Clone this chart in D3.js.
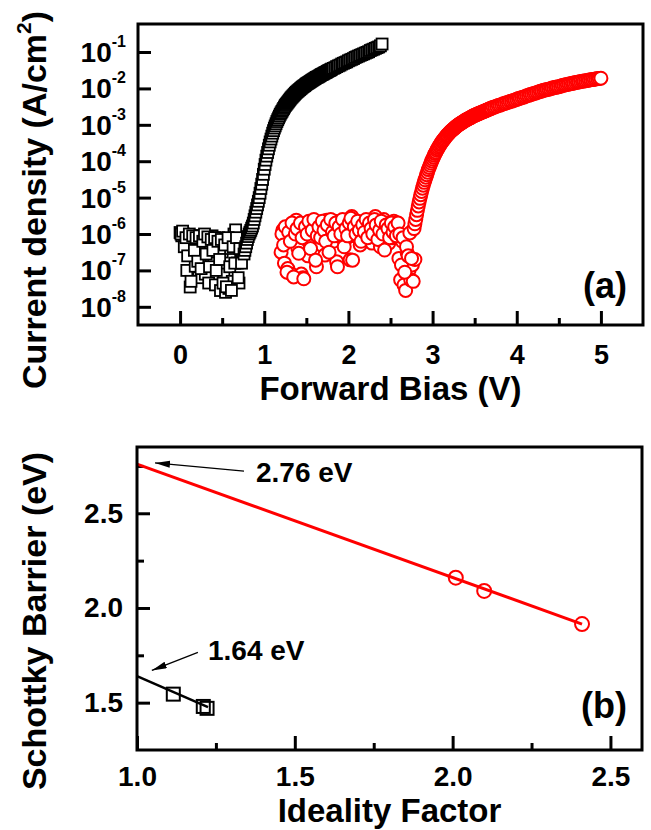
<!DOCTYPE html>
<html><head><meta charset="utf-8">
<script src="https://cdn.jsdelivr.net/npm/d3@7/dist/d3.min.js"></script>
<style>
body{margin:0;background:#fff}
svg{display:block}
text{font-family:"Liberation Sans",Arial,sans-serif;font-weight:bold;fill:#000}
</style>
</head><body>
<svg id="c" width="651" height="830"></svg>
<script>
// ---------- Panel (a): J-V data (V in volts, J in A/cm^2) ----------
const blackLeakV = [0.00,0.02,0.04,0.06,0.08,0.10,0.12,0.14,0.16,0.18,0.20,0.22,0.24,0.26,0.28,0.30,0.32,0.34,0.36,0.38,
  0.40,0.42,0.44,0.46,0.48,0.50,0.52,0.54,0.56,0.58,0.60,0.62,0.64,0.66,0.68,0.70,0.72,0.74];
const blackLeakJ = [1.1e-6,8.9e-7,1.0e-6,6.3e-7,1.0e-7,7.9e-7,3.5e-8,5.0e-7,8.9e-7,1.3e-7,7.1e-7,6.3e-8,2.5e-7,7.9e-7,4.0e-7,7.9e-8,6.3e-7,4.5e-8,5.0e-7,8.9e-7,
  1.6e-7,4.0e-8,5.6e-7,7.9e-7,2.8e-8,3.2e-7,7.9e-8,2.5e-8,6.3e-7,3.2e-8,4.0e-7,5.0e-8,1.0e-6,1.3e-6,1.6e-7,4.5e-8,2.5e-7,3.5e-7];
const blackLeak2V = [0.01,0.03,0.05,0.07,0.09,0.11,0.13,0.15,0.17,0.19,0.21,0.23,0.25,0.27,0.29,0.31,0.33,0.35,0.37,
  0.39,0.41,0.43,0.45,0.47,0.49,0.51,0.53,0.55,0.57,0.59,0.61,0.63,0.65,0.67,0.69,0.71,0.73];
const blackLeak2J = [1.00e-6,1.20e-6,4.47e-7,7.94e-7,2.51e-7,1.00e-6,5.01e-8,8.91e-7,3.55e-7,7.94e-7,1.78e-7,8.91e-7,1.12e-7,6.31e-7,1.00e-6,2.82e-7,8.32e-7,1.26e-7,7.08e-7,
  3.55e-7,7.94e-7,1.00e-7,6.31e-7,2.00e-7,7.08e-7,4.47e-8,5.01e-7,3.55e-8,7.94e-7,1.26e-7,2.82e-8,4.47e-7,1.58e-7,7.94e-7,6.31e-8,3.98e-7,1.58e-7];
const blackOnV = [0.76,0.77,0.78,0.79,0.80,0.81,0.82,0.83,0.84,0.85,0.86,0.87,0.88,0.89,0.90,0.91,0.92,0.93,0.94,0.95,
  0.96,0.97,0.98,0.99,1.00,1.01,1.02,1.03,1.04,1.05,1.06,1.07,1.08,1.09,1.10,1.11,1.12,1.13,1.14,1.15,
  1.16,1.17,1.18,1.19,1.20,1.21,1.22,1.23,1.24,1.25,1.26,1.27,1.28,1.29,1.30,1.31,1.32,1.33,1.34,1.35,
  1.36,1.37,1.38,1.39,1.40,1.41,1.42,1.43,1.44,1.45,1.46,1.47,1.48,1.49,1.50,1.51,1.52,1.53,1.54,1.55,
  1.56,1.57,1.58,1.59,1.60,1.61,1.62,1.63,1.64,1.65,1.66,1.67,1.68,1.69,1.70,1.71,1.72,1.73,1.74,1.75,
  1.76,1.77,1.78,1.79,1.80,
  1.82,1.84,1.86,1.88,1.90,1.92,1.94,1.96,1.98,2.00,2.02,2.04,2.06,2.08,2.10,
  2.12,2.14,2.16,2.18,2.20,2.22,2.24,2.26,2.28,2.30,2.32,2.34,2.36,2.38,2.40];
const blackOnJ = [2.82e-7,3.55e-7,4.47e-7,5.62e-7,7.08e-7,8.51e-7,1.00e-6,1.12e-6,1.26e-6,1.45e-6,
  1.66e-6,2.00e-6,2.51e-6,3.16e-6,3.98e-6,5.01e-6,6.31e-6,7.94e-6,1.00e-5,1.32e-5,
  1.78e-5,2.34e-5,3.16e-5,4.37e-5,6.03e-5,8.13e-5,1.07e-4,1.38e-4,1.74e-4,2.19e-4,
  2.75e-4,3.39e-4,4.07e-4,4.90e-4,5.89e-4,6.92e-4,8.13e-4,9.33e-4,1.07e-3,1.23e-3,
  1.38e-3,1.55e-3,1.74e-3,1.95e-3,2.14e-3,2.34e-3,2.57e-3,2.82e-3,3.09e-3,3.39e-3,
  3.63e-3,3.89e-3,4.17e-3,4.47e-3,4.79e-3,5.13e-3,5.50e-3,5.82e-3,6.17e-3,6.53e-3,
  6.92e-3,7.33e-3,7.76e-3,8.13e-3,8.51e-3,8.91e-3,9.33e-3,9.77e-3,1.02e-2,1.07e-2,
  1.12e-2,1.16e-2,1.20e-2,1.26e-2,1.32e-2,1.36e-2,1.41e-2,1.46e-2,1.51e-2,1.57e-2,
  1.62e-2,1.68e-2,1.74e-2,1.80e-2,1.86e-2,1.93e-2,2.00e-2,2.04e-2,2.09e-2,2.16e-2,
  2.24e-2,2.32e-2,2.40e-2,2.45e-2,2.51e-2,2.60e-2,2.69e-2,2.75e-2,2.82e-2,2.92e-2,
  3.02e-2,3.09e-2,3.16e-2,3.27e-2,3.39e-2,
  3.55e-2,3.72e-2,3.98e-2,4.17e-2,4.37e-2,4.68e-2,4.90e-2,5.13e-2,5.37e-2,5.75e-2,6.03e-2,6.31e-2,6.61e-2,7.08e-2,7.41e-2,
  7.76e-2,8.13e-2,8.51e-2,8.91e-2,9.33e-2,9.77e-2,0.102,0.110,0.115,0.120,0.126,0.132,0.138,0.148,0.166];

const redLeakV = [1.20,1.22,1.24,1.26,1.28,1.30,1.32,1.34,1.36,1.38,1.40,1.42,1.44,1.46,1.48,1.50,1.52,1.54,1.56,1.58,
  1.60,1.62,1.64,1.66,1.68,1.70,1.72,1.74,1.76,1.78,1.80,1.82,1.84,1.86,1.88,1.90,1.92,1.94,1.96,1.98,
  2.00,2.02,2.04,2.06,2.08,2.10,2.12,2.14,2.16,2.18,2.20,2.22,2.24,2.26,2.28,2.30,2.32,2.34,2.36,2.38,
  2.40,2.42,2.44,2.46,2.48,2.50,2.52,2.54,2.56,2.58,2.60,2.62,2.64,2.66,2.68,2.70,2.72,2.74,2.76,2.77,2.79];
const redLeakJ = [3.16e-7,1.26e-6,1.58e-7,7.94e-7,1.12e-7,1.41e-6,7.94e-8,7.08e-7,1.78e-6,2.40e-6,
  3.98e-7,1.12e-6,7.94e-8,6.31e-8,8.91e-7,2.00e-6,2.51e-7,1.26e-6,5.62e-7,1.78e-6,
  1.00e-6,1.26e-7,1.41e-6,2.00e-6,5.01e-7,1.12e-6,2.63e-7,2.40e-6,1.26e-6,1.00e-6,
  1.78e-6,6.31e-7,2.24e-6,1.74e-7,1.12e-6,1.58e-6,7.94e-7,2.00e-6,6.92e-7,1.41e-6,
  2.51e-6,1.95e-7,3.02e-6,1.26e-6,8.91e-7,1.78e-6,2.00e-6,5.01e-7,6.92e-7,1.41e-6,
  2.24e-6,1.00e-6,2.40e-6,1.58e-6,5.62e-7,1.26e-6,3.02e-6,2.00e-6,8.91e-7,4.47e-7,
  1.58e-6,2.51e-6,1.12e-6,2.00e-6,5.62e-7,1.41e-6,7.94e-7,2.24e-6,1.26e-6,2.00e-6,
  2.14e-7,5.50e-8,6.31e-7,3.98e-8,2.82e-8,2.95e-7,1.00e-7,5.50e-8,1.41e-7,5.01e-8,2.00e-7];
const redLeak2V = [1.21,1.23,1.25,1.27,1.29,1.31,1.33,1.35,1.37,1.39,1.41,1.43,1.45,1.47,1.49,1.51,1.53,1.55,1.57,1.59,
  1.61,1.63,1.65,1.67,1.69,1.71,1.73,1.75,1.77,1.79,1.81,1.83,1.85,1.87,1.89,1.91,1.93,1.95,1.97,1.99,
  2.01,2.03,2.05,2.07,2.09,2.11,2.13,2.15,2.17,2.19,2.21,2.23,2.25,2.27,2.29,2.31,2.33,2.35,2.37,2.39,
  2.41,2.43,2.45,2.47,2.49,2.51,2.53,2.55,2.57,2.59,2.61,2.63,2.65,2.67,2.69,2.71,2.73,2.75];
const redLeak2J = [1.00e-6,5.01e-7,1.58e-6,8.91e-8,1.12e-6,6.31e-7,2.00e-6,6.61e-8,1.00e-6,1.41e-6,
  2.95e-7,2.00e-6,7.94e-7,5.89e-8,1.58e-6,1.00e-6,2.24e-6,3.98e-7,1.26e-6,2.51e-6,
  1.91e-7,8.91e-7,1.58e-6,7.94e-7,2.24e-6,1.26e-6,6.31e-7,1.78e-6,3.16e-7,2.51e-6,
  1.12e-6,8.91e-7,2.00e-6,1.26e-7,1.58e-6,1.00e-6,2.51e-6,4.47e-7,1.41e-6,8.91e-7,
  2.00e-6,2.69e-6,1.91e-7,1.58e-6,1.00e-6,2.24e-6,1.26e-6,6.31e-7,1.78e-6,1.12e-6,
  2.51e-6,7.94e-7,2.00e-6,1.41e-6,1.00e-6,2.51e-6,1.78e-6,7.08e-7,1.26e-6,2.24e-6,
  1.00e-6,3.63e-7,1.78e-6,1.41e-6,7.94e-7,2.00e-6,1.12e-6,1.58e-6,8.91e-7,2.00e-6,
  1.00e-6,1.41e-7,7.94e-7,8.91e-8,4.47e-7,2.51e-7,1.07e-6,2.14e-7];
const redOnV = [2.78,2.79,2.80,2.81,2.82,2.83,2.84,2.85,2.86,2.87,2.88,2.89,2.90,2.91,2.92,2.93,2.94,2.95,2.96,2.97,
  2.98,2.99,3.00,3.01,3.02,3.03,3.04,3.05,3.06,3.07,3.08,3.09,3.10,3.11,3.12,3.13,3.14,3.15,3.16,3.17,
  3.18,3.19,3.20,3.21,3.22,3.23,3.24,3.25,3.26,3.27,3.28,3.29,3.30,3.31,3.32,3.33,3.34,3.35,3.36,3.37,
  3.38,3.39,3.40,3.41,3.42,3.43,3.44,3.45,3.46,3.47,3.48,3.49,3.50,3.51,3.52,3.53,3.54,3.55,3.56,3.57,
  3.58,3.59,3.60,3.61,3.62,3.63,3.64,3.65,3.66,3.67,3.68,3.69,3.70,
  3.72,3.74,3.76,3.78,3.80,3.82,3.84,3.86,3.88,3.90,3.92,3.94,3.96,3.98,4.00,4.02,4.04,4.06,4.08,4.10,
  4.12,4.14,4.16,4.18,4.20,4.22,4.24,4.26,4.28,4.30,4.32,4.34,4.36,4.38,4.40,4.42,4.44,4.46,4.48,4.50,
  4.52,4.54,4.56,4.58,4.60,4.62,4.64,4.66,4.68,4.70,4.72,4.74,4.76,4.78,4.80,4.82,4.84,4.86,4.88,4.90,
  4.92,4.94,4.96,4.98,5.00];
const redOnJ = [1.41e-6,1.91e-6,2.51e-6,3.39e-6,4.47e-6,5.89e-6,7.59e-6,9.55e-6,1.20e-5,1.48e-5,
  1.82e-5,2.19e-5,2.63e-5,3.09e-5,3.63e-5,4.27e-5,5.01e-5,5.89e-5,6.76e-5,7.76e-5,
  8.91e-5,1.02e-4,1.15e-4,1.29e-4,1.45e-4,1.62e-4,1.78e-4,2.00e-4,2.19e-4,2.40e-4,
  2.63e-4,2.88e-4,3.09e-4,3.39e-4,3.63e-4,3.89e-4,4.17e-4,4.47e-4,4.79e-4,5.13e-4,
  5.37e-4,5.75e-4,6.03e-4,6.46e-4,6.76e-4,7.08e-4,7.41e-4,7.76e-4,8.13e-4,8.51e-4,
  8.91e-4,9.33e-4,9.77e-4,1.01e-3,1.05e-3,1.08e-3,1.12e-3,1.16e-3,1.20e-3,1.24e-3,
  1.29e-3,1.33e-3,1.38e-3,1.41e-3,1.45e-3,1.50e-3,1.55e-3,1.58e-3,1.62e-3,1.68e-3,
  1.74e-3,1.78e-3,1.82e-3,1.86e-3,1.91e-3,1.95e-3,2.00e-3,2.04e-3,2.09e-3,2.14e-3,
  2.19e-3,2.24e-3,2.29e-3,2.34e-3,2.40e-3,2.45e-3,2.51e-3,2.57e-3,2.63e-3,2.69e-3,
  2.75e-3,2.82e-3,2.88e-3,
  3.02e-3,3.09e-3,3.24e-3,3.39e-3,3.47e-3,3.63e-3,3.80e-3,3.89e-3,4.07e-3,4.17e-3,
  4.37e-3,4.47e-3,4.68e-3,4.79e-3,5.01e-3,5.25e-3,5.37e-3,5.62e-3,5.75e-3,6.03e-3,
  6.31e-3,6.46e-3,6.76e-3,6.92e-3,7.24e-3,7.41e-3,7.76e-3,7.94e-3,8.32e-3,8.51e-3,
  8.91e-3,9.12e-3,9.33e-3,9.55e-3,9.77e-3,1.02e-2,1.05e-2,1.07e-2,1.10e-2,1.12e-2,
  1.15e-2,1.20e-2,1.23e-2,1.26e-2,1.29e-2,1.32e-2,1.35e-2,1.38e-2,1.41e-2,1.45e-2,
  1.48e-2,1.51e-2,1.55e-2,1.58e-2,1.60e-2,1.62e-2,1.66e-2,1.70e-2,1.74e-2,1.75e-2,
  1.78e-2,1.82e-2,1.86e-2,1.87e-2,1.91e-2];

const xTicksA = [0,1,2,3,4,5];
const xMinorA = [0.5,1.5,2.5,3.5,4.5];
const yTicksA = [1e-8,1e-7,1e-6,1e-5,1e-4,1e-3,1e-2,1e-1];
const yExpA = ["-8","-7","-6","-5","-4","-3","-2","-1"];

// ---------- Panel (b): barrier vs ideality ----------
const idealRed = [2.01,2.10,2.41];
const barrierRed = [2.16,2.09,1.915];
const idealBlack = [1.115,1.21,1.222];
const barrierBlack = [1.545,1.48,1.47];
const fitRedX = [1.0,2.41], fitRedY = [2.76,1.915];
const fitBlackX = [1.0,1.225], fitBlackY = [1.64,1.476];
const xTicksB = [1.0,1.5,2.0,2.5];
const xMinorB = [1.25,1.75,2.25];
const yTicksB = [1.5,2.0,2.5];
const yMinorB = [1.75,2.25,2.75];

const RED = "#ff0000";
const svg = d3.select("#c");

svg.append("defs").append("marker")
  .attr("id","ah").attr("markerUnits","userSpaceOnUse")
  .attr("markerWidth",16).attr("markerHeight",8)
  .attr("refX",15).attr("refY",3.5).attr("orient","auto")
  .append("path").attr("d","M0,0 L15,3.5 L0,7 Z").attr("fill","#000");

function styleAxis(g, fs){
  g.select(".domain").remove();
  g.selectAll(".tick line").attr("stroke","#000").attr("stroke-width",3);
  g.selectAll(".tick text").attr("font-size",fs).attr("font-family","Liberation Sans, Arial, sans-serif").attr("font-weight","bold").attr("fill","#000");
}

// ===== Panel (a) =====
const A = {l:138, r:643, t:24, b:325};
const xA = d3.scaleLinear().domain([-0.5,5.5]).range([A.l,A.r]);
const yA = d3.scaleLog().domain([Math.pow(10,-8.5),Math.pow(10,-0.23)]).range([A.b,A.t]);

const gAx = svg.append("g").attr("transform",`translate(0,${A.b})`)
  .call(d3.axisBottom(xA).tickValues(xTicksA).tickSize(-14).tickPadding(20).tickFormat(d3.format("d")));
styleAxis(gAx,27);
const gAxm = svg.append("g").attr("transform",`translate(0,${A.b})`)
  .call(d3.axisBottom(xA).tickValues(xMinorA).tickSize(-7).tickFormat(""));
styleAxis(gAxm,27);
const gAy = svg.append("g").attr("transform",`translate(${A.l},0)`)
  .call(d3.axisLeft(yA).tickValues(yTicksA).tickSize(-13).tickFormat(""));
styleAxis(gAy,27);

const yLab = svg.append("g");
yTicksA.forEach((t,i)=>{
  const tx = yLab.append("text").attr("x",A.l-12).attr("y",yA(t)+10).attr("text-anchor","end");
  tx.append("tspan").attr("font-size",28).text("10");
  tx.append("tspan").attr("font-size",16).attr("dy",-15).text(yExpA[i]);
});

const gA = svg.append("g");
const sq = 11;
function squares(V,J){
  gA.append("g").selectAll("rect").data(d3.zip(V,J)).join("rect")
    .attr("x",d=>xA(d[0])-sq/2).attr("y",d=>yA(d[1])-sq/2).attr("width",sq).attr("height",sq)
    .attr("fill","#fff").attr("stroke","#000").attr("stroke-width",1.8);
}
function circles(V,J){
  gA.append("g").selectAll("circle").data(d3.zip(V,J)).join("circle")
    .attr("cx",d=>xA(d[0])).attr("cy",d=>yA(d[1])).attr("r",6.5)
    .attr("fill","#fff").attr("stroke",RED).attr("stroke-width",2);
}
squares(blackLeakV,blackLeakJ);
squares(blackLeak2V,blackLeak2J);
squares(blackOnV,blackOnJ);
circles(redLeakV,redLeakJ);
circles(redLeak2V,redLeak2J);
circles(redOnV,redOnJ);

svg.append("rect").attr("x",A.l).attr("y",A.t).attr("width",A.r-A.l).attr("height",A.b-A.t)
  .attr("fill","none").attr("stroke","#000").attr("stroke-width",3);

svg.append("text").attr("x",(A.l+A.r)/2).attr("y",400).attr("text-anchor","middle").attr("font-size",33).text("Forward Bias (V)");
const tA = svg.append("text").attr("transform","translate(46,200) rotate(-90)").attr("text-anchor","middle").attr("font-size",34);
tA.append("tspan").text("Current density (A/cm");
tA.append("tspan").attr("font-size",21).attr("dy",-15).text("2");
tA.append("tspan").attr("dy",15).text(")");
svg.append("text").attr("x",627).attr("y",298).attr("text-anchor","end").attr("font-size",36).text("(a)");

// ===== Panel (b) =====
const B = {l:137, r:642, t:447, b:750};
const xB = d3.scaleLinear().domain([1.0,2.6]).range([B.l,B.r]);
const yB = d3.scaleLinear().domain([1.25,2.85]).range([B.b,B.t]);

const gBx = svg.append("g").attr("transform",`translate(0,${B.b})`)
  .call(d3.axisBottom(xB).tickValues(xTicksB).tickSize(-14).tickPadding(16).tickFormat(d3.format(".1f")));
styleAxis(gBx,28);
const gBxm = svg.append("g").attr("transform",`translate(0,${B.b})`)
  .call(d3.axisBottom(xB).tickValues(xMinorB).tickSize(-7).tickFormat(""));
styleAxis(gBxm,28);
const gBy = svg.append("g").attr("transform",`translate(${B.l},0)`)
  .call(d3.axisLeft(yB).tickValues(yTicksB).tickSize(-13).tickPadding(14).tickFormat(d3.format(".1f")));
styleAxis(gBy,28);
const gBym = svg.append("g").attr("transform",`translate(${B.l},0)`)
  .call(d3.axisLeft(yB).tickValues(yMinorB).tickSize(-7).tickFormat(""));
styleAxis(gBym,28);

const line = d3.line().x(d=>xB(d[0])).y(d=>yB(d[1]));
svg.append("path").attr("d",line(d3.zip(fitRedX,fitRedY))).attr("stroke",RED).attr("stroke-width",3).attr("fill","none");
svg.append("path").attr("d",line(d3.zip(fitBlackX,fitBlackY))).attr("stroke","#000").attr("stroke-width",2.5).attr("fill","none");

svg.append("g").selectAll("circle").data(d3.zip(idealRed,barrierRed)).join("circle")
  .attr("cx",d=>xB(d[0])).attr("cy",d=>yB(d[1])).attr("r",7)
  .attr("fill","none").attr("stroke",RED).attr("stroke-width",2);
const sqB = 13;
svg.append("g").selectAll("rect").data(d3.zip(idealBlack,barrierBlack)).join("rect")
  .attr("x",d=>xB(d[0])-sqB/2).attr("y",d=>yB(d[1])-sqB/2).attr("width",sqB).attr("height",sqB)
  .attr("fill","none").attr("stroke","#000").attr("stroke-width",2);

// annotations (data coordinates)
const notes = [
  {label:"2.76 eV", tx:1.377, ty:2.665, ax0:1.339, ay0:2.723, ax1:1.057, ay1:2.766},
  {label:"1.64 eV", tx:1.225, ty:1.723, ax0:1.193, ay0:1.766, ax1:1.047, ay1:1.670}
];
notes.forEach(n=>{
  svg.append("line").attr("x1",xB(n.ax0)).attr("y1",yB(n.ay0)).attr("x2",xB(n.ax1)).attr("y2",yB(n.ay1))
    .attr("stroke","#000").attr("stroke-width",1.3).attr("marker-end","url(#ah)");
  svg.append("text").attr("x",xB(n.tx)).attr("y",yB(n.ty)).attr("font-size",28).text(n.label);
});

svg.append("rect").attr("x",B.l).attr("y",B.t).attr("width",B.r-B.l).attr("height",B.b-B.t)
  .attr("fill","none").attr("stroke","#000").attr("stroke-width",3);

svg.append("text").attr("x",(B.l+B.r)/2).attr("y",822).attr("text-anchor","middle").attr("font-size",33).text("Ideality Factor");
svg.append("text").attr("transform","translate(46,621) rotate(-90)").attr("text-anchor","middle").attr("font-size",34).text("Schottky Barrier (eV)");
svg.append("text").attr("x",627).attr("y",718).attr("text-anchor","end").attr("font-size",36).text("(b)");
</script>
</body></html>
